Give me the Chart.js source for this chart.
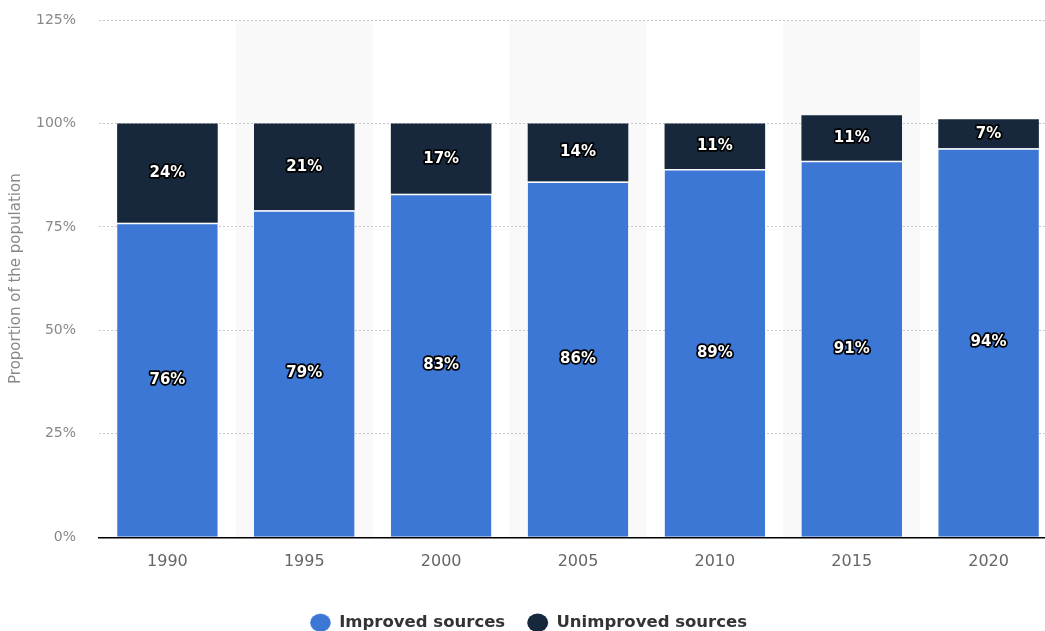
<!DOCTYPE html>
<html><head><meta charset="utf-8">
<script src="https://cdn.jsdelivr.net/npm/chart.js@4/dist/chart.umd.min.js"></script>
<style>
html,body{margin:0;padding:0;overflow:hidden;background:#fff;}
#wrap{width:1057px;height:641px;position:relative;}
</style></head>
<body><div id="wrap"><canvas id="c"></canvas></div>
<script>
const categories = ['1990','1995','2000','2005','2010','2015','2020'];
const improved = [76, 79, 83, 86, 89, 91, 94];
const unimproved = [24, 21, 17, 14, 11, 11, 7];
const yTicks = [0, 25, 50, 75, 100, 125];

const bandPlugin = {
  id: 'bands',
  beforeDraw(chart) {
    const {ctx, chartArea, scales} = chart;
    const x = scales.x;
    ctx.save();
    ctx.fillStyle = '#f9f9f9';
    categories.forEach((c, i) => {
      if (i % 2 === 1) {
        const cx = x.getPixelForValue(i);
        const w = (x.getPixelForValue(1) - x.getPixelForValue(0));
        ctx.fillRect(cx - w/2, chartArea.top, w, chartArea.bottom - chartArea.top);
      }
    });
    ctx.restore();
  }
};

const labelPlugin = {
  id: 'labels',
  afterDatasetsDraw(chart) {
    const {ctx} = chart;
    ctx.save();
    ctx.font = 'bold 15px "DejaVu Sans", sans-serif';
    ctx.textAlign = 'center';
    ctx.textBaseline = 'middle';
    ctx.lineJoin = 'round';
    chart.data.datasets.forEach((ds, di) => {
      const meta = chart.getDatasetMeta(di);
      meta.data.forEach((bar, i) => {
        const y = (bar.y + bar.base) / 2;
        const t = ds.data[i] + '%';
        ctx.lineWidth = 3.5;
        ctx.strokeStyle = '#000';
        ctx.strokeText(t, bar.x, y);
        ctx.fillStyle = '#fff';
        ctx.fillText(t, bar.x, y);
      });
    });
    ctx.restore();
  }
};

new Chart(document.getElementById('c'), {
  type: 'bar',
  data: {
    labels: categories,
    datasets: [
      {label: 'Improved sources', data: improved, backgroundColor: '#3c77d6', borderColor: '#ffffff', borderWidth: {top: 1.5, left: 0, right: 0, bottom: 0}, borderSkipped: false},
      {label: 'Unimproved sources', data: unimproved, backgroundColor: '#17283c', borderColor: '#ffffff', borderWidth: 0}
    ]
  },
  options: {
    responsive: true,
    maintainAspectRatio: false,
    animation: false,
    layout: {padding: {top: 20, right: 0, left: 0, bottom: 0}},
    datasets: {bar: {barPercentage: 0.735, categoryPercentage: 1.0}},
    scales: {
      x: {
        stacked: true,
        grid: {display: false, drawTicks: false},
        border: {display: true, color: '#000', width: 1.5},
        ticks: {color: '#666', font: {family: '"DejaVu Sans", sans-serif', size: 16}, padding: 15},
        afterFit(axis) { axis.height += 6; }
      },
      y: {
        stacked: true,
        min: 0, max: 125,
        afterBuildTicks(axis) { axis.ticks = yTicks.map(v => ({value: v})); },
        afterFit(axis) { axis.width = 99; axis.paddingTop = 8; axis.paddingBottom = 8; },
        grid: {color: '#c8c8c8', drawTicks: false, lineWidth: 1},
        border: {display: false, dash: [2, 2]},
        ticks: {color: '#888', font: {family: '"DejaVu Sans", sans-serif', size: 14}, padding: 23, callback: v => v + '%'},
        title: {display: true, text: 'Proportion of the population', color: '#888', font: {family: '"DejaVu Sans", sans-serif', size: 15}, padding: {top: 7, bottom: 0}}
      }
    },
    plugins: {
      legend: {
        position: 'bottom',
        labels: {usePointStyle: true, pointStyle: 'circle', boxWidth: 13, boxHeight: 13, pointStyleWidth: 21, color: '#333', padding: 22, font: {family: '"DejaVu Sans", sans-serif', size: 16.5, weight: 'bold'}}
      },
      tooltip: {enabled: false}
    }
  },
  plugins: [bandPlugin, labelPlugin]
});
</script></body></html>
